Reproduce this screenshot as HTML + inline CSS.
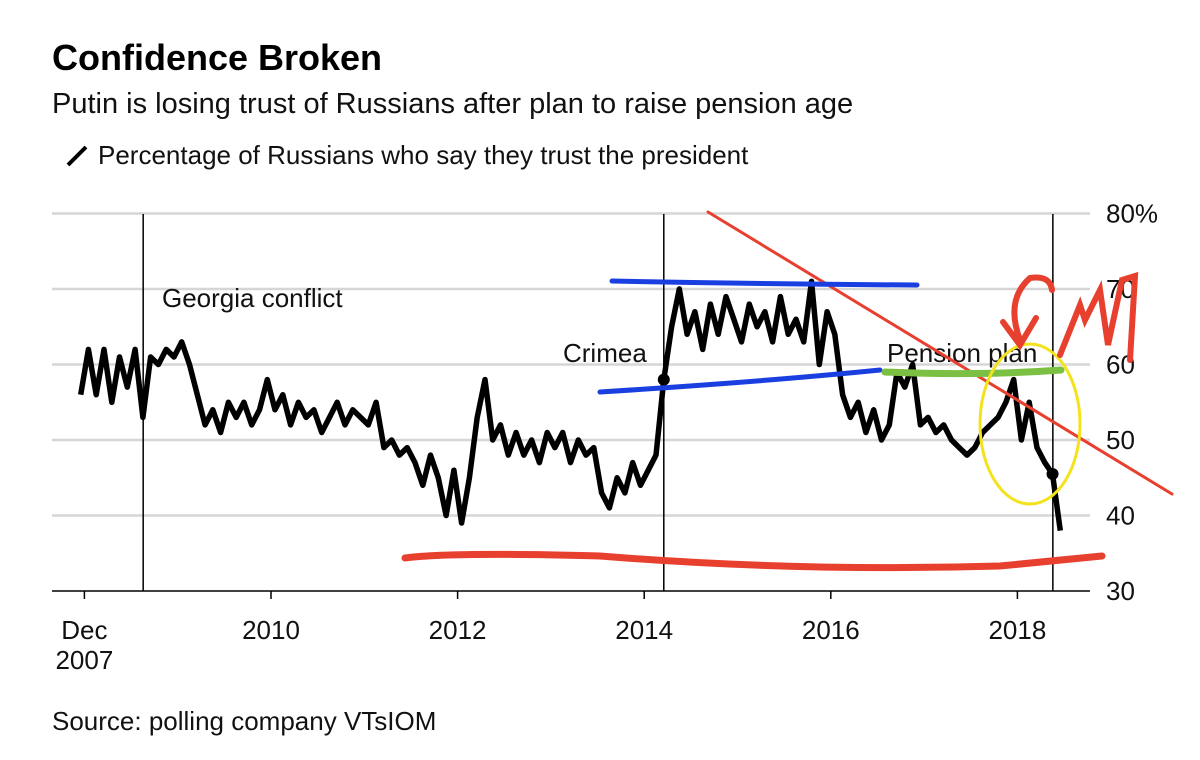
<!DOCTYPE html>
<html><head><meta charset="utf-8"><style>
body{margin:0;background:#fff;font-family:"Liberation Sans",sans-serif;}
svg{display:block}
</style></head><body>
<svg width="1200" height="760" id="c">
<text x="52" y="70" font-size="36" font-weight="bold" fill="#000">Confidence Broken</text>
<text x="52" y="113" font-size="29" fill="#111">Putin is losing trust of Russians after plan to raise pension age</text>
<line x1="68" y1="165" x2="86" y2="147" stroke="#000" stroke-width="4"/>
<text x="98" y="164" font-size="26" fill="#111">Percentage of Russians who say they trust the president</text>
<g id="grid"></g>
<g id="xaxis"></g>
<text x="162" y="307" font-size="26" fill="#111">Georgia conflict</text>
<text x="563" y="362" font-size="26" fill="#111">Crimea</text>
<text x="887" y="362" font-size="26" fill="#111">Pension plan</text>
<g id="series"></g>
<g fill="none" stroke-linecap="round">
<path d="M708,212 L1172,494" stroke="#e8402f" stroke-width="3"/>
<path d="M612,281 Q760,284 917,285" stroke="#1a3fe0" stroke-width="5"/>
<path d="M600,392 Q760,382 880,370" stroke="#1a3fe0" stroke-width="5"/>
<path d="M885,372 Q980,376 1061,370" stroke="#7cc043" stroke-width="7"/>
<ellipse cx="1030" cy="424" rx="50" ry="80" stroke="#f4e21c" stroke-width="3"/>
<path d="M405,558 Q450,552 600,556 Q800,572 1000,566 Q1060,560 1102,556" stroke="#e8402f" stroke-width="7"/>
<path d="M1020,340 Q1005,300 1030,278 Q1050,275 1052,290 M1003,322 L1020,345 L1036,318" stroke="#e8402f" stroke-width="6"/>
<path d="M1060,355 L1080,305 L1085,320 L1100,290 L1108,345 L1122,280 L1135,276 L1130,360" stroke="#e8402f" stroke-width="6"/>
</g>
<text x="52" y="730" font-size="26" fill="#111">Source: polling company VTsIOM</text>
</svg>
<script>
const yTicks=[30,40,50,60,70,80];
const yTickLabels=["30","40","50","60","70","80%"];
const xTicks=[2008.0,2010,2012,2014,2016,2018];
const xTickLabels=["Dec","2010","2012","2014","2016","2018"];
const startYear=2007.96;
const trustValues=[56,
62,56,62,55,61,57,62,53,61,60,62,61,
63,60,56,52,54,51,55,53,55,52,54,58,
54,56,52,55,53,54,51,53,55,52,54,53,
52,55,49,50,48,49,47,44,48,45,40,46,
39,45,53,58,50,52,48,51,48,50,47,51,
49,51,47,50,48,49,43,41,45,43,47,44,
46,48,58,65,70,64,67,62,68,64,69,66,
63,68,65,67,63,69,64,66,63,71,60,67,
64,56,53,55,51,54,50,52,59,57,60,52,
53,51,52,50,49,48,49,51,52,53,55,58,
50,55,49,47,45.5,38];
const eventYears=[2008.63,2014.21,2018.38];
const markerIndices=[75,125];
const NS="http://www.w3.org/2000/svg";
const X=t=>271+(t-2010)*93.3;
const Y=v=>591-(v-30)*7.55;
const mk=(n,a,p)=>{const e=document.createElementNS(NS,n);for(const k in a)e.setAttribute(k,a[k]);p.appendChild(e);return e;};
const grid=document.getElementById('grid'),xa=document.getElementById('xaxis'),se=document.getElementById('series');
yTicks.forEach((v,i)=>{
 const l=mk('line',{x1:52,x2:1090,y1:Y(v),y2:Y(v),stroke:v===30?'#000':'#d6d6d6','stroke-width':v===30?1.5:2.5},grid);
 
 
 const t=mk('text',{x:1106,y:Y(v)+9,'font-size':26,fill:'#111'},grid);t.textContent=yTickLabels[i];
 
 
});
xTicks.forEach((t,i)=>{
 const l=mk('line',{x1:X(t),x2:X(t),y1:591,y2:599,stroke:'#000','stroke-width':1.5},xa);
 
 
 const tx=mk('text',{x:X(t),y:639,'font-size':26,fill:'#111','text-anchor':'middle'},xa);tx.textContent=xTickLabels[i];
 
 
});
const t2=mk('text',{x:X(xTicks[0]),y:669,'font-size':26,fill:'#111','text-anchor':'middle'},xa);t2.textContent="2007";


eventYears.forEach(t=>{
 const l=mk('line',{x1:X(t),x2:X(t),y1:214,y2:591,stroke:'#000','stroke-width':1.5},grid);
 
 
});
const pts=trustValues.map((v,i)=>X(startYear+i/12).toFixed(1)+','+Y(v).toFixed(1));
const pl=mk('polyline',{points:pts.join(' '),fill:'none',stroke:'#000','stroke-width':5.5,'stroke-linejoin':'round'},se);


markerIndices.forEach(i=>{
 const c=mk('circle',{cx:X(startYear+i/12),cy:Y(trustValues[i]),r:6,fill:'#000'},se);
 
 
});
</script>
</body></html>
